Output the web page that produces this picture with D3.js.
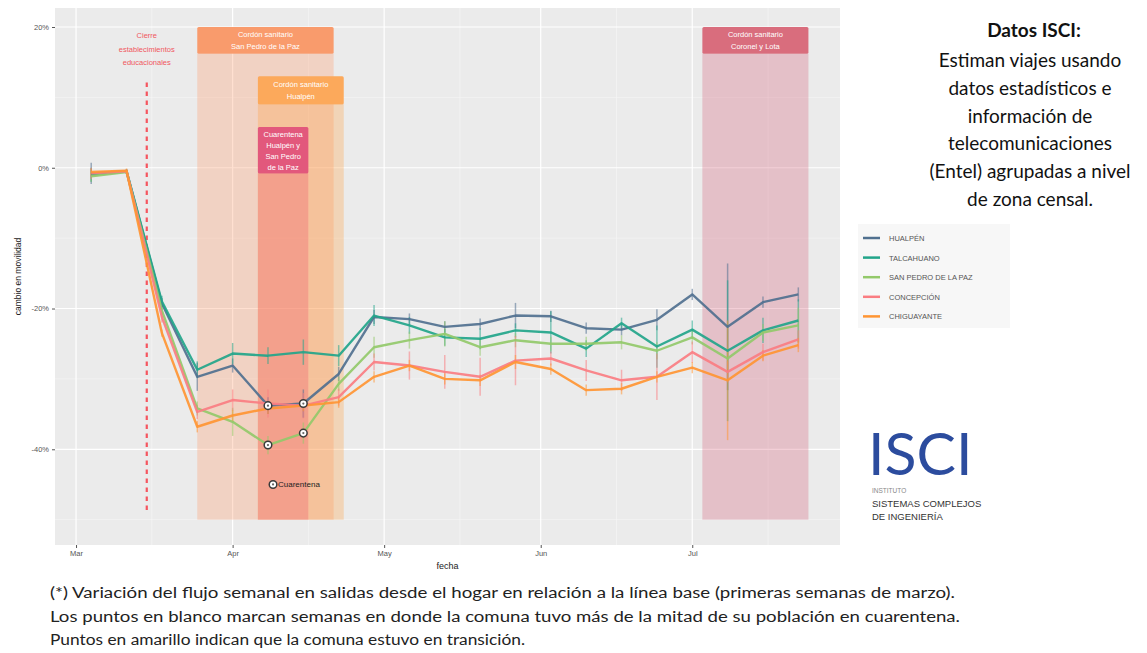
<!DOCTYPE html>
<html>
<head>
<meta charset="utf-8">
<script src="https://cdnjs.cloudflare.com/ajax/libs/d3/7.8.5/d3.min.js"></script>
<style>
  body { margin: 0; background: #fff; }
  svg { font-family: "Liberation Sans", Arial, sans-serif; }
  .cal { font-family: Lato, "Open Sans", sans-serif; }
</style>
</head>
<body>
<div id="chart"></div>
<script>
// weekly points (one per week, Mar 4 - Jul 22 2020)
const weeks = ["2020-03-04", "2020-03-11", "2020-03-18", "2020-03-25", "2020-04-01", "2020-04-08", "2020-04-15",
  "2020-04-22", "2020-04-29", "2020-05-06", "2020-05-13", "2020-05-20", "2020-05-27", "2020-06-03",
  "2020-06-10", "2020-06-17", "2020-06-24", "2020-07-01", "2020-07-08", "2020-07-15", "2020-07-22"];

const comunas = ["HUALPÉN", "TALCAHUANO", "SAN PEDRO DE LA PAZ", "CONCEPCIÓN", "CHIGUAYANTE"];

const hualpen     = [-0.8, -0.5, -19.3, -29.7, -28.1, -33.8, -33.5, -29.3, -21.2, -21.5, -22.6, -22.2, -21.0, -21.1, -22.8, -23.0, -21.6, -18.0, -22.6, -19.1, -18.0];
const talcahuano  = [-1.0, -0.5, -19.0, -28.7, -26.4, -26.7, -26.2, -26.7, -21.0, -22.4, -24.1, -24.3, -23.1, -23.4, -25.7, -22.1, -25.4, -23.0, -26.0, -23.1, -21.7];
const sanPedro    = [-1.2, -0.6, -20.3, -34.2, -36.1, -39.4, -37.7, -30.7, -25.5, -24.5, -23.6, -25.5, -24.5, -25.0, -25.0, -24.8, -26.0, -24.1, -27.1, -23.4, -22.4];
const concepcion  = [-0.8, -0.5, -21.2, -34.7, -33.0, -33.5, -33.8, -32.6, -27.6, -28.1, -29.0, -29.7, -27.4, -27.1, -28.8, -30.2, -29.7, -26.2, -29.0, -26.2, -24.4];
const chiguayante = [-0.6, -0.4, -23.5, -36.8, -35.2, -34.2, -33.8, -33.3, -29.7, -28.1, -30.0, -30.2, -27.6, -28.6, -31.6, -31.4, -29.7, -28.4, -30.2, -26.7, -25.2];

// half width of the error bars
const hualpenErr     = [1.5, 0.3, 0.8, 2.0, 1.0, 1.2, 2.0, 1.0, 1.0, 0.8, 0.8, 0.8, 1.8, 0.8, 0.8, 0.8, 1.5, 0.8, 9.0, 0.8, 1.0];
const talcahuanoErr  = [1.0, 0.3, 0.8, 1.2, 1.5, 1.2, 1.8, 1.5, 1.5, 1.2, 1.2, 1.5, 1.0, 3.0, 1.2, 0.8, 3.0, 1.3, 10.0, 1.8, 3.0];
const sanPedroErr    = [0.8, 0.3, 0.8, 1.0, 2.0, 1.3, 1.5, 1.0, 1.5, 1.2, 1.8, 1.2, 1.0, 1.0, 1.0, 1.0, 1.2, 1.0, 1.5, 1.2, 2.5];
const concepcionErr  = [0.8, 0.3, 0.8, 1.0, 1.5, 2.0, 1.8, 1.2, 1.2, 2.0, 2.4, 2.7, 3.5, 1.0, 1.5, 1.5, 3.3, 1.5, 1.5, 1.2, 1.3];
const chiguayanteErr = [0.5, 0.3, 0.5, 0.8, 0.8, 0.8, 0.8, 0.8, 0.8, 0.8, 0.8, 0.8, 1.0, 0.8, 0.8, 0.8, 0.8, 0.8, 8.5, 0.8, 1.0];

// weeks in quarantine (white points)
const quarantineHualpen  = ["2020-04-08", "2020-04-15"];
const quarantineSanPedro = ["2020-04-08", "2020-04-15"];

const yTicks = [20, 0, -20, -40];
const yMinor = [10, -10, -30, -50];
const monthTicks = ["2020-03-01", "2020-04-01", "2020-05-01", "2020-06-01", "2020-07-01"];
const monthLabels = ["Mar", "Apr", "May", "Jun", "Jul"];
const monthMinor = ["2020-03-16", "2020-04-16", "2020-05-16", "2020-06-16", "2020-07-16"];

const schoolClosure = "2020-03-15";
const schoolLabel = ["Cierre", "establecimientos", "educacionales"];

const zoneLabels = [
  ["Cordón sanitario", "San Pedro de la Paz"],
  ["Cordón sanitario", "Hualpén"],
  ["Cuarentena", "Hualpén y", "San Pedro", "de la Paz"],
  ["Cordón sanitario", "Coronel y Lota"]
];
const zoneStart = ["2020-03-25", "2020-04-06", "2020-04-06", "2020-07-03"];
const zoneEnd   = ["2020-04-21", "2020-04-23", "2020-04-16", "2020-07-24"];

const infoTitle = "Datos ISCI:";
const infoLines = ["Estiman viajes usando", "datos estadísticos e", "información de",
  "telecomunicaciones", "(Entel) agrupadas a nivel", "de zona censal."];
const noteLines = [
  "(*) Variación del flujo semanal en salidas desde el hogar en relación a la línea base (primeras semanas de marzo).",
  "Los puntos en blanco marcan semanas en donde la comuna tuvo más de la mitad de su población en cuarentena.",
  "Puntos en amarillo indican que la comuna estuvo en transición."
];

const parseDay = d3.timeParse("%Y-%m-%d");

const w = 1147, h = 653;
const panel = { left: 55, right: 840, top: 8, bottom: 545 };

const colors = ["#50708f", "#22a58a", "#93c96a", "#fa7d82", "#ff9533"];
const values = [hualpen, talcahuano, sanPedro, concepcion, chiguayante];
const errors = [hualpenErr, talcahuanoErr, sanPedroErr, concepcionErr, chiguayanteErr];

const svg = d3.select("#chart").append("svg")
  .attr("width", w)
  .attr("height", h);

const xScale = d3.scaleTime()
  .domain([new Date(2020, 1, 25, 20), new Date(2020, 6, 30, 6)])
  .range([panel.left, panel.right]);

const yScale = d3.scaleLinear()
  .domain([-53.6, 22.7])
  .range([panel.bottom, panel.top]);

// panel
svg.append("rect")
  .attr("x", panel.left)
  .attr("y", panel.top)
  .attr("width", panel.right - panel.left)
  .attr("height", panel.bottom - panel.top)
  .attr("fill", "#ebebeb");

const grid = svg.append("g");
grid.selectAll(".ymin").data(yMinor).enter().append("line")
  .attr("x1", panel.left).attr("x2", panel.right)
  .attr("y1", d => yScale(d)).attr("y2", d => yScale(d))
  .attr("stroke", "#f6f6f6").attr("stroke-width", 0.6);
grid.selectAll(".xmin").data(monthMinor).enter().append("line")
  .attr("y1", panel.top).attr("y2", panel.bottom)
  .attr("x1", d => xScale(parseDay(d))).attr("x2", d => xScale(parseDay(d)))
  .attr("stroke", "#f6f6f6").attr("stroke-width", 0.6);
grid.selectAll(".ymaj").data(yTicks).enter().append("line")
  .attr("x1", panel.left).attr("x2", panel.right)
  .attr("y1", d => yScale(d)).attr("y2", d => yScale(d))
  .attr("stroke", "#fff").attr("stroke-width", 1.2);
grid.selectAll(".xmaj").data(monthTicks).enter().append("line")
  .attr("y1", panel.top).attr("y2", panel.bottom)
  .attr("x1", d => xScale(parseDay(d))).attr("x2", d => xScale(parseDay(d)))
  .attr("stroke", "#fff").attr("stroke-width", 1.2);

// shaded zones
const zoneFill = ["#ff9966", "#ffa040", "#f06070", "#d04060"];
const zoneAlpha = [0.3, 0.3, 0.35, 0.25];
const zoneTop = [20, 13, 5.8, 20];
const zoneBoxBottom = [16.2, 9.0, -0.8, 16.2];
const zoneBoxColor = ["#f99b6c", "#fca95b", "#e2587c", "#d96d7d"];

zoneStart.forEach((s, i) => {
  svg.append("rect")
    .attr("x", xScale(parseDay(s)))
    .attr("y", yScale(zoneBoxBottom[i]))
    .attr("width", xScale(parseDay(zoneEnd[i])) - xScale(parseDay(s)))
    .attr("height", yScale(-50) - yScale(zoneBoxBottom[i]))
    .attr("fill", zoneFill[i])
    .attr("fill-opacity", zoneAlpha[i]);
});

zoneStart.forEach((s, i) => {
  const x0 = xScale(parseDay(s)), x1 = xScale(parseDay(zoneEnd[i]));
  const y0 = yScale(zoneTop[i]), y1 = yScale(zoneBoxBottom[i]);
  svg.append("rect")
    .attr("x", x0).attr("y", y0)
    .attr("width", x1 - x0).attr("height", y1 - y0)
    .attr("rx", 1.5)
    .attr("fill", zoneBoxColor[i]);
  const lh = zoneLabels[i].length > 2 ? 11 : 12;
  const start = (y0 + y1) / 2 - (zoneLabels[i].length - 1) * lh / 2;
  svg.selectAll(null).data(zoneLabels[i]).enter().append("text")
    .attr("x", (x0 + x1) / 2)
    .attr("y", (d, j) => start + j * lh + 3)
    .attr("text-anchor", "middle")
    .attr("fill", "#fff")
    .attr("font-size", 7.5)
    .text(d => d);
});

// school closure
const xs = xScale(parseDay(schoolClosure));
svg.append("line")
  .attr("x1", xs).attr("x2", xs)
  .attr("y1", yScale(12.1)).attr("y2", yScale(-49))
  .attr("stroke", "#f5555f")
  .attr("stroke-width", 2.2)
  .attr("stroke-dasharray", "4.5,4.5");
svg.selectAll(".school").data(schoolLabel).enter().append("text")
  .attr("x", xs)
  .attr("y", (d, i) => 38 + i * 13.5)
  .attr("text-anchor", "middle")
  .attr("fill", "#f0575f")
  .attr("font-size", 7.5)
  .text(d => d);

// error bars
values.forEach((vals, s) => {
  svg.append("g").selectAll("line")
    .data(vals)
    .enter()
    .append("line")
    .attr("x1", (d, i) => xScale(parseDay(weeks[i])))
    .attr("x2", (d, i) => xScale(parseDay(weeks[i])))
    .attr("y1", (d, i) => yScale(d - errors[s][i]))
    .attr("y2", (d, i) => yScale(d + errors[s][i]))
    .attr("stroke", colors[s])
    .attr("stroke-opacity", 0.55)
    .attr("stroke-width", 1.5);
});

// lines
const line = d3.line()
  .x((d, i) => xScale(parseDay(weeks[i])))
  .y(d => yScale(d));

values.forEach((vals, s) => {
  svg.append("path")
    .datum(vals)
    .attr("d", line)
    .attr("fill", "none")
    .attr("stroke", colors[s])
    .attr("stroke-width", 2.4)
    .attr("stroke-opacity", 0.92)
    .attr("stroke-linejoin", "round");
});

// quarantine points
function marker(x, y) {
  svg.append("circle").attr("cx", x).attr("cy", y).attr("r", 3.8)
    .attr("fill", "#fff").attr("stroke", "#3a3a3a").attr("stroke-width", 1.5);
  svg.append("circle").attr("cx", x).attr("cy", y).attr("r", 1.1)
    .attr("fill", "#666");
}
quarantineHualpen.forEach(d => {
  const i = weeks.indexOf(d);
  marker(xScale(parseDay(d)), yScale(hualpen[i]));
});
quarantineSanPedro.forEach(d => {
  const i = weeks.indexOf(d);
  marker(xScale(parseDay(d)), yScale(sanPedro[i]));
});
marker(xScale(parseDay("2020-04-09")), yScale(-45));
svg.append("text")
  .attr("x", xScale(parseDay("2020-04-09")) + 5)
  .attr("y", yScale(-45) + 3)
  .attr("font-size", 8)
  .attr("fill", "#222")
  .text("Cuarentena");

// axes
const yAxis = d3.axisLeft(yScale)
  .tickValues(yTicks)
  .tickSize(3)
  .tickFormat(d => d + "%");
const gy = svg.append("g")
  .attr("transform", "translate(" + panel.left + ",0)")
  .call(yAxis);
gy.attr("font-family", null);
gy.select(".domain").remove();
gy.selectAll("line").attr("stroke", "#555");
gy.selectAll("text").attr("font-size", 7.5).attr("fill", "#555");

const xAxis = d3.axisBottom(xScale)
  .tickValues(monthTicks.map(parseDay))
  .tickSize(3)
  .tickFormat((d, i) => monthLabels[i]);
const gx = svg.append("g")
  .attr("transform", "translate(0," + panel.bottom + ")")
  .call(xAxis);
gx.attr("font-family", null);
gx.select(".domain").remove();
gx.selectAll("line").attr("stroke", "#555");
gx.selectAll("text").attr("font-size", 7.5).attr("fill", "#555");

svg.append("text")
  .attr("x", (panel.left + panel.right) / 2)
  .attr("y", 569)
  .attr("text-anchor", "middle")
  .attr("font-size", 9)
  .attr("fill", "#222")
  .text("fecha");

svg.append("text")
  .attr("transform", "translate(21," + ((panel.top + panel.bottom) / 2) + ") rotate(-90)")
  .attr("text-anchor", "middle")
  .attr("font-size", 8.5)
  .attr("fill", "#222")
  .text("cambio en movilidad");

// legend
const legend = svg.append("g").attr("transform", "translate(858,224)");
legend.append("rect")
  .attr("width", 152).attr("height", 104)
  .attr("fill", "#f7f7f7");
legend.selectAll("line").data(comunas).enter().append("line")
  .attr("x1", 5).attr("x2", 22)
  .attr("y1", (d, i) => 14 + i * 19.6).attr("y2", (d, i) => 14 + i * 19.6)
  .attr("stroke", (d, i) => colors[i])
  .attr("stroke-width", 2.5);
legend.selectAll("text").data(comunas).enter().append("text")
  .attr("x", 31)
  .attr("y", (d, i) => 17 + i * 19.6)
  .attr("font-size", 7.5)
  .attr("fill", "#555")
  .text(d => d);

// info text
svg.append("text")
  .attr("class", "cal")
  .attr("x", 1034).attr("y", 37)
  .attr("text-anchor", "middle")
  .attr("font-weight", "bold")
  .attr("font-size", 19)
  .attr("fill", "#111")
  .text(infoTitle);
svg.selectAll(".info").data(infoLines).enter().append("text")
  .attr("class", "cal")
  .attr("x", 1030)
  .attr("y", (d, i) => 67 + i * 27.8)
  .attr("text-anchor", "middle")
  .attr("font-size", 19)
  .attr("fill", "#111")
  .text(d => d);

// ISCI logo
svg.append("text")
  .attr("class", "cal")
  .attr("x", 868).attr("y", 475)
  .attr("font-size", 59)
  .attr("font-weight", 400)
  .attr("fill", "#2c4c9e")
  .text("ISCI");
svg.append("text")
  .attr("x", 872).attr("y", 493)
  .attr("font-size", 6.5).attr("fill", "#888")
  .text("INSTITUTO");
svg.append("text")
  .attr("x", 872).attr("y", 507)
  .attr("font-size", 9.5).attr("fill", "#333")
  .text("SISTEMAS COMPLEJOS");
svg.append("text")
  .attr("x", 872).attr("y", 520)
  .attr("font-size", 9.5).attr("fill", "#333")
  .text("DE INGENIERÍA");

// footnote
const noteWidth = [905, 910, 475];
svg.selectAll(".note").data(noteLines).enter().append("text")
  .attr("class", "cal")
  .attr("x", 50)
  .attr("y", (d, i) => 598 + i * 23.5)
  .attr("font-size", 15.5)
  .attr("fill", "#222")
  .attr("textLength", (d, i) => noteWidth[i])
  .attr("lengthAdjust", "spacingAndGlyphs")
  .text(d => d);
</script>
</body>
</html>
